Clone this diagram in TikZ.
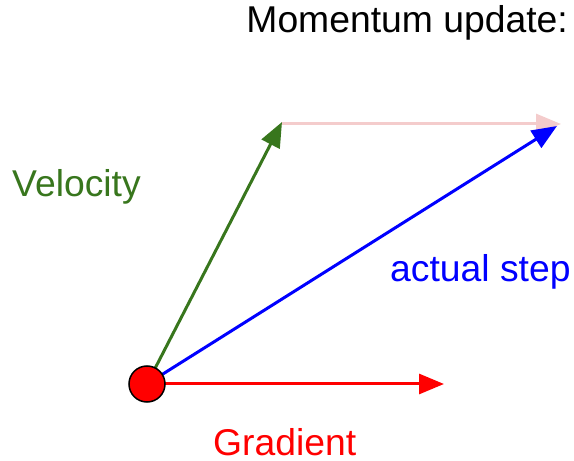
\documentclass[tikz,border=0pt]{standalone}
\usepackage{fontspec}
\setmainfont{Liberation Sans}
\usetikzlibrary{arrows.meta}
\definecolor{velgreen}{RGB}{56,118,29}
\definecolor{pinkish}{RGB}{244,204,204}
\tikzset{
  vec/.style={line width=3pt,-{Triangle[length=25pt,width=20pt]}},
  lbl/.style={inner sep=0pt,font=\fontsize{37.3}{42}\selectfont},
}
\begin{document}
\begin{tikzpicture}[x=1pt,y=1pt]
\useasboundingbox (0,0) rectangle (574,461);
\coordinate (o) at (147,77);
\coordinate (vtip) at (282,339);
\coordinate (ptip) at (561,337);
\coordinate (btip) at (557,335);
\coordinate (gtip) at (444,77);
\draw[vec,pinkish] (vtip) ++(0,-2) coordinate (pstart) -- (ptip);
\draw[vec,blue] (o) -- (btip);
\draw[vec,velgreen] (o) -- (vtip);
\draw[vec,red] (o) -- (gtip);
\node[circle,fill=red,draw=black,line width=1.5pt,minimum size=36pt,inner sep=0pt] (dot) at (o) {};
\node[lbl,anchor=base east] (title) at (568,428) {Momentum update:};
\node[lbl,anchor=base west,text=velgreen] (vel) at (12,264) {Velocity};
\node[lbl,anchor=base west,text=blue] (step) at (390,179) {actual step};
\node[lbl,anchor=base west,text=red] (grad) at (213,5) {Gradient};
\end{tikzpicture}
\end{document}
